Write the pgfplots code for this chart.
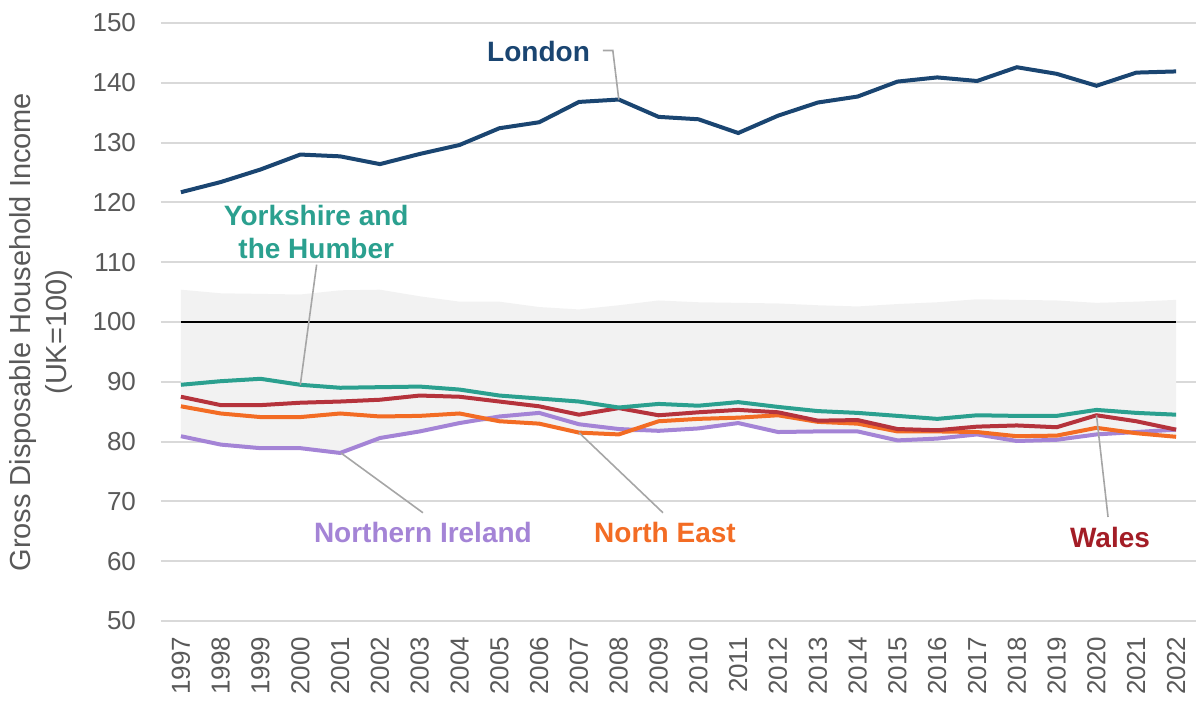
\documentclass[border=0pt]{standalone}
\usepackage{fontspec}
\setmainfont{Liberation Sans}
\usepackage{pgfplots}
\pgfplotsset{compat=1.18}
\definecolor{txtgray}{HTML}{595959}
\definecolor{gridgray}{HTML}{D9D9D9}
\definecolor{bandgray}{HTML}{F2F2F2}
\definecolor{london}{HTML}{1A4571}
\definecolor{yorks}{HTML}{2BA08F}
\definecolor{walesline}{HTML}{B5333C}
\definecolor{walestxt}{HTML}{A31D26}
\definecolor{neast}{HTML}{F36C24}
\definecolor{nirl}{HTML}{A484D6}
\definecolor{leader}{HTML}{A6A6A6}
\begin{document}
\begin{tikzpicture}
\begin{axis}[name=ax, scale only axis, width=517.5pt, height=299pt,
  xmin=1996.5, xmax=2022.5, ymin=50, ymax=150,
  xtick={1997,1998,...,2022}, ytick={50,60,...,150},
  /pgf/number format/assume math mode=true,
  /pgf/number format/set thousands separator={},
  axis line style={draw=none}, major tick length=0pt,
  ymajorgrids, grid style={gridgray, line width=1pt},
  ticklabel style={font=\fontsize{13}{15}\selectfont, text=txtgray},
  xticklabel style={rotate=90, anchor=east},
  xticklabel shift=4.5pt, yticklabel shift=9pt,
  ylabel={Gross Disposable Household Income\\(UK=100)},
  ylabel style={align=center, font=\fontsize{14.5}{18}\selectfont, text=txtgray,
    at={(axis description cs:-0.079,0.483)}, anchor=south},
  clip=false,
]
% band
\addplot[fill=bandgray, draw=none] coordinates {
(1997,105.4)(1998,104.8)(1999,104.7)(2000,104.6)(2001,105.3)(2002,105.4)(2003,104.3)(2004,103.4)(2005,103.4)(2006,102.5)(2007,102.1)(2008,102.8)(2009,103.6)(2010,103.3)(2011,103.2)(2012,103.1)(2013,102.8)(2014,102.6)(2015,103.0)(2016,103.3)(2017,103.8)(2018,103.7)(2019,103.6)(2020,103.2)(2021,103.4)(2022,103.7)
(2022,80.8)(2021,81.4)(2020,81.2)(2019,80.3)(2018,80.1)(2017,81.2)(2016,80.5)(2015,80.2)(2014,81.7)(2013,81.7)(2012,81.6)(2011,83.1)(2010,82.2)(2009,81.8)(2008,81.2)(2007,81.5)(2006,83.0)(2005,83.4)(2004,83.1)(2003,81.7)(2002,80.6)(2001,78.1)(2000,78.9)(1999,78.9)(1998,79.5)(1997,80.9)
} -- cycle;
% UK = 100
\addplot[black, line width=0.8pt] coordinates {(1997,100)(2022,100)};
% Northern Ireland
\addplot[nirl, line width=2pt] coordinates {
(1997,80.9)(1998,79.5)(1999,78.9)(2000,78.9)(2001,78.1)(2002,80.6)(2003,81.7)(2004,83.1)(2005,84.2)(2006,84.8)(2007,82.9)(2008,82.1)(2009,81.8)(2010,82.2)(2011,83.1)(2012,81.6)(2013,81.7)(2014,81.7)(2015,80.2)(2016,80.5)(2017,81.2)(2018,80.1)(2019,80.3)(2020,81.2)(2021,81.6)(2022,82.0)};
% North East
\addplot[neast, line width=2pt] coordinates {
(1997,85.9)(1998,84.7)(1999,84.1)(2000,84.1)(2001,84.7)(2002,84.2)(2003,84.3)(2004,84.7)(2005,83.4)(2006,83.0)(2007,81.5)(2008,81.2)(2009,83.4)(2010,83.8)(2011,84.0)(2012,84.4)(2013,83.3)(2014,83.0)(2015,81.7)(2016,81.7)(2017,81.6)(2018,80.9)(2019,81.0)(2020,82.3)(2021,81.4)(2022,80.8)};
% Wales
\addplot[walesline, line width=2pt] coordinates {
(1997,87.5)(1998,86.1)(1999,86.1)(2000,86.5)(2001,86.7)(2002,87.0)(2003,87.7)(2004,87.5)(2005,86.7)(2006,85.9)(2007,84.5)(2008,85.6)(2009,84.4)(2010,84.9)(2011,85.3)(2012,84.9)(2013,83.5)(2014,83.6)(2015,82.1)(2016,81.9)(2017,82.5)(2018,82.7)(2019,82.4)(2020,84.4)(2021,83.4)(2022,82.0)};
% Yorkshire and the Humber
\addplot[yorks, line width=2pt] coordinates {
(1997,89.5)(1998,90.1)(1999,90.5)(2000,89.5)(2001,89.0)(2002,89.1)(2003,89.2)(2004,88.7)(2005,87.7)(2006,87.2)(2007,86.7)(2008,85.7)(2009,86.3)(2010,86.0)(2011,86.6)(2012,85.8)(2013,85.1)(2014,84.8)(2015,84.3)(2016,83.8)(2017,84.4)(2018,84.3)(2019,84.3)(2020,85.3)(2021,84.8)(2022,84.5)};
% London
\addplot[london, line width=2pt] coordinates {
(1997,121.7)(1998,123.4)(1999,125.5)(2000,128.0)(2001,127.7)(2002,126.4)(2003,128.1)(2004,129.6)(2005,132.4)(2006,133.4)(2007,136.8)(2008,137.2)(2009,134.3)(2010,133.9)(2011,131.6)(2012,134.5)(2013,136.7)(2014,137.7)(2015,140.2)(2016,140.9)(2017,140.3)(2018,142.6)(2019,141.5)(2020,139.5)(2021,141.7)(2022,141.9)};
% leaders
\draw[leader, line width=0.8pt] (axis cs:2007.6,145.4) -- (axis cs:2007.85,145.4) -- (axis cs:2008,137.2);
\draw[leader, line width=0.8pt] (axis cs:2000.41,109.6) -- (axis cs:2000.0,89.5);
\draw[leader, line width=0.8pt] (axis cs:2001.02,78.1) -- (axis cs:2003.08,68.1);
\draw[leader, line width=0.8pt] (axis cs:2007,81.5) -- (axis cs:2009.11,68.1);
\draw[leader, line width=0.8pt] (axis cs:2020.0,84.4) -- (axis cs:2020.29,67.4);
% labels
\node[font=\fontsize{14}{16}\selectfont\bfseries, text=london, anchor=east] at (axis cs:2007.45,145.2) {London};
\node[font=\fontsize{14}{16.5}\selectfont\bfseries, text=yorks, align=center] at (axis cs:2000.4,115.0) {Yorkshire and\\the Humber};
\node[font=\fontsize{14}{16}\selectfont\bfseries, text=nirl] at (axis cs:2003.08,64.8) {Northern Ireland};
\node[font=\fontsize{14}{16}\selectfont\bfseries, text=neast] at (axis cs:2009.16,64.8) {North East};
\node[font=\fontsize{14}{16}\selectfont\bfseries, text=walestxt] at (axis cs:2020.34,63.9) {Wales};
\end{axis}
\pgfresetboundingbox
\path ([xshift=-80.5pt,yshift=-41.5pt]ax.south west) rectangle ([yshift=11.5pt]ax.north east);
\end{tikzpicture}
\end{document}
